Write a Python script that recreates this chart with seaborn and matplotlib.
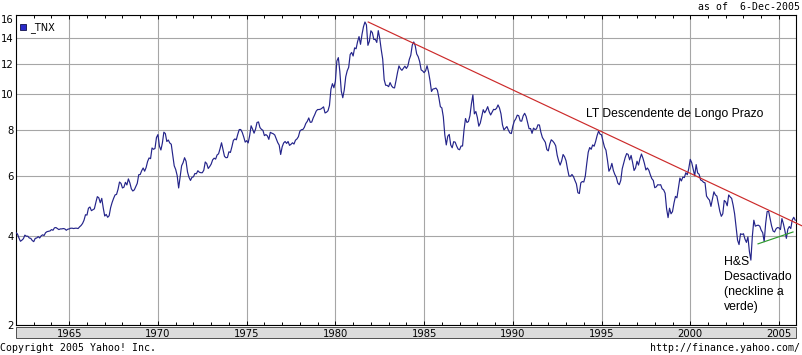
import numpy as np
import pandas as pd
import matplotlib
matplotlib.use("Agg")
import matplotlib.pyplot as plt
import seaborn as sns
from matplotlib.patches import Rectangle
from matplotlib.ticker import FixedLocator, MultipleLocator

# ---------------- data (monthly) ----------------
start_year = 1962
tnx_1960s = [
    4.08, 4.04, 3.93, 3.84, 3.87, 3.91, 4.01, 3.98, 3.98, 3.93, 3.92, 3.86,
    3.83, 3.92, 3.93, 3.97, 3.93, 3.99, 4.02, 4.00, 4.08, 4.11, 4.12, 4.13,
    4.17, 4.15, 4.22, 4.23, 4.20, 4.17, 4.19, 4.19, 4.20, 4.19, 4.15, 4.18,
    4.19, 4.21, 4.21, 4.20, 4.21, 4.21, 4.20, 4.25, 4.29, 4.35, 4.45, 4.62,
    4.61, 4.83, 4.87, 4.75, 4.78, 4.81, 5.02, 5.22, 5.18, 5.01, 5.16, 4.84,
    4.58, 4.63, 4.54, 4.59, 4.85, 5.02, 5.16, 5.28, 5.30, 5.48, 5.75, 5.70,
    5.53, 5.56, 5.74, 5.64, 5.87, 5.72, 5.50, 5.42, 5.46, 5.58, 5.70, 6.03,
    6.04, 6.19, 6.30, 6.17, 6.32, 6.57, 6.72, 6.69, 7.16, 7.10, 7.14, 7.65,
]
tnx_1970s = [
    7.79, 7.24, 7.07, 7.39, 7.91, 7.84, 7.46, 7.53, 7.39, 7.33, 6.84, 6.39,
    6.24, 6.00, 5.53, 5.96, 6.39, 6.52, 6.73, 6.58, 6.14, 5.93, 5.81, 5.93,
    5.95, 6.08, 6.07, 6.19, 6.13, 6.11, 6.11, 6.21, 6.55, 6.48, 6.28, 6.36,
    6.46, 6.64, 6.71, 6.67, 6.85, 6.90, 7.13, 7.40, 7.09, 6.79, 6.73, 6.74,
    6.99, 6.96, 7.21, 7.51, 7.58, 7.54, 7.81, 8.04, 8.04, 7.90, 7.68, 7.43,
    7.50, 7.39, 7.73, 8.23, 8.06, 7.86, 8.06, 8.40, 8.43, 8.14, 8.05, 8.00,
    7.74, 7.79, 7.73, 7.56, 7.90, 7.86, 7.83, 7.77, 7.59, 7.41, 7.29, 6.87,
    7.21, 7.39, 7.46, 7.37, 7.46, 7.28, 7.33, 7.40, 7.34, 7.52, 7.58, 7.69,
    7.96, 8.03, 8.04, 8.15, 8.35, 8.46, 8.64, 8.41, 8.42, 8.64, 8.81, 9.01,
    9.10, 9.10, 9.12, 9.18, 9.25, 8.91, 8.95, 9.03, 9.33, 10.30, 10.65, 10.39,
]
tnx_1980s = [
    10.80, 12.20, 12.45, 11.47, 10.18, 9.78, 10.25, 11.10, 11.51, 11.75, 12.68, 12.84,
    12.57, 13.19, 13.12, 13.68, 14.10, 13.47, 14.28, 14.94, 15.36, 15.10, 13.39, 13.72,
    14.59, 14.43, 13.86, 13.87, 13.62, 14.60, 13.95, 13.06, 12.34, 10.91, 10.55, 10.54,
    10.46, 10.72, 10.51, 10.40, 10.38, 10.85, 11.38, 11.85, 11.65, 11.54, 11.69, 11.83,
    11.67, 11.84, 12.32, 12.63, 13.41, 13.66, 13.36, 12.72, 12.52, 12.16, 11.57, 11.50,
    11.38, 11.51, 11.86, 11.43, 10.85, 10.16, 10.31, 10.33, 10.37, 10.24, 9.78, 9.26,
    9.19, 8.70, 7.78, 7.30, 7.71, 7.80, 7.30, 7.17, 7.45, 7.43, 7.25, 7.11,
    7.08, 7.25, 7.25, 8.02, 8.61, 8.40, 8.45, 8.76, 9.42, 9.95, 8.86, 8.99,
    8.67, 8.21, 8.37, 8.72, 9.09, 8.92, 9.06, 9.26, 8.98, 8.80, 8.96, 9.11,
    9.09, 9.17, 9.36, 9.18, 8.86, 8.28, 8.02, 8.11, 8.19, 8.01, 7.87, 7.84,
]
tnx_1990s = [
    8.21, 8.47, 8.59, 8.79, 8.76, 8.48, 8.47, 8.75, 8.89, 8.72, 8.39, 8.08,
    8.09, 7.85, 8.11, 8.04, 8.07, 8.28, 8.27, 7.90, 7.65, 7.53, 7.42, 7.09,
    7.03, 7.34, 7.54, 7.48, 7.39, 7.26, 6.84, 6.59, 6.42, 6.59, 6.87, 6.77,
    6.60, 6.26, 5.98, 5.97, 6.04, 5.96, 5.81, 5.68, 5.36, 5.33, 5.72, 5.77,
    5.75, 5.97, 6.48, 6.97, 7.18, 7.10, 7.30, 7.24, 7.46, 7.74, 7.96, 7.81,
    7.78, 7.47, 7.20, 7.06, 6.63, 6.17, 6.28, 6.49, 6.20, 6.04, 5.93, 5.71,
    5.65, 5.81, 6.27, 6.51, 6.74, 6.91, 6.87, 6.64, 6.83, 6.53, 6.20, 6.30,
    6.58, 6.42, 6.69, 6.89, 6.71, 6.49, 6.22, 6.30, 6.21, 6.03, 5.88, 5.81,
    5.54, 5.57, 5.65, 5.64, 5.65, 5.50, 5.46, 5.34, 4.81, 4.53, 4.83, 4.65,
    4.72, 5.00, 5.23, 5.18, 5.54, 5.90, 5.79, 5.94, 5.92, 6.11, 6.03, 6.28,
]
tnx_2000s = [
    6.66, 6.52, 6.26, 5.99, 6.44, 6.10, 6.05, 5.83, 5.80, 5.74, 5.72, 5.24,
    5.16, 5.10, 4.89, 5.14, 5.39, 5.28, 5.24, 4.97, 4.73, 4.57, 4.65, 5.09,
    5.04, 4.91, 5.28, 5.21, 5.16, 4.93, 4.65, 4.26, 3.87, 3.75, 4.05, 4.03,
    4.05, 3.90, 3.81, 3.96, 3.57, 3.35, 3.98, 4.45, 4.27, 4.29, 4.30, 4.27,
    4.15, 4.08, 3.83, 4.35, 4.72, 4.73, 4.50, 4.28, 4.13, 4.10, 4.19, 4.23,
    4.22, 4.17, 4.50, 4.34, 4.14, 3.92, 4.18, 4.26, 4.20, 4.46, 4.54, 4.45,
]

# trend lines drawn on the chart (year, yield)
lt_line_years = [1981.85, 2006.30]
lt_line_values = [15.36, 4.28]
neck_line_years = [2003.82, 2005.79]
neck_line_values = [3.77, 4.10]

y_ticks = [2, 4, 6, 8, 10, 12, 14, 16]
x_ticks = [1965, 1970, 1975, 1980, 1985, 1990, 1995, 2000, 2005]

# ---------------- build frame ----------------
values = tnx_1960s + tnx_1970s + tnx_1980s + tnx_1990s + tnx_2000s
dates = pd.date_range(f"{start_year}-01-01", periods=len(values), freq="MS")
df = pd.DataFrame({
    "year": dates.year + (dates.month - 1) / 12.0,
    "yield": values,
})

# ---------------- figure ----------------
W, H = 802, 355
fig = plt.figure(figsize=(W / 100, H / 100), dpi=100)
fig.patch.set_facecolor("white")

def fx(px):
    return px / W

def fy(py):
    return (H - py) / H

ax_l, ax_r, ax_t, ax_b = 16, 796, 15, 325
ax = fig.add_axes([fx(ax_l), fy(ax_b), (ax_r - ax_l) / W, (ax_b - ax_t) / H])
ax.set_facecolor("white")

sns.lineplot(data=df, x="year", y="yield", ax=ax, color="#24248a",
             linewidth=0.85, legend=False, zorder=3)

C = 1.2
ax.set_yscale("function", functions=(lambda v: np.log(np.maximum(v, 1e-6) + C),
                                     lambda u: np.exp(u) - C))
ax.set_ylim(2, 16.0)
ax.set_xlim(1962.0, 2005.96)

# trend lines
ax.plot(lt_line_years, lt_line_values, color="#cc2a2a", linewidth=0.85,
        clip_on=False, zorder=4)
ax.plot(neck_line_years, neck_line_values, color="#2e9a2e", linewidth=0.85,
        zorder=4)

# ticks & grid
ax.yaxis.set_major_locator(FixedLocator(y_ticks))
ax.yaxis.set_minor_locator(FixedLocator([]))
ax.set_yticklabels([str(t) for t in y_ticks])
ax.xaxis.set_major_locator(FixedLocator(x_ticks))
ax.xaxis.set_minor_locator(MultipleLocator(1))
ax.set_xticklabels([str(t) for t in x_ticks])
ax.grid(True, which="major", color="#a6a6a6", linewidth=0.8, zorder=0)
ax.set_axisbelow(True)
ax.set_xlabel("")
ax.set_ylabel("")

ax.tick_params(axis="y", which="major", left=False, right=False, length=0,
               pad=1.5, labelsize=7.2, colors="black",
               labelleft=True, labelright=False)
ax.tick_params(axis="x", which="major", bottom=True, top=True, direction="in",
               length=3, pad=3.0, labelsize=7.2, width=0.7)
ax.tick_params(axis="x", which="minor", bottom=True, top=True, direction="in",
               length=2.2, width=0.7)
for lab in ax.get_yticklabels():
    if lab.get_text() == "16":
        lab.set_va("top")
for sp in ax.spines.values():
    sp.set_color("black")
    sp.set_linewidth(0.8)

# grey band with the year labels
band = Rectangle((fx(16), fy(338)), (796 - 16) / W, 11 / H,
                 transform=fig.transFigure, facecolor="#dcdcdc",
                 edgecolor="#505050", linewidth=0.7, zorder=-1)
fig.add_artist(band)

# legend square and name
fig.add_artist(Rectangle((fx(20), fy(30)), 6 / W, 6 / H,
                         transform=fig.transFigure, facecolor="#2a2ac8",
                         edgecolor="#10104a", linewidth=0.6, zorder=5))
fig.text(fx(30), fy(28), "_TNX", fontsize=7, family="DejaVu Sans",
         va="center", ha="left", zorder=6)

# header / footer
fig.text(fx(800), fy(7), "as of  6-Dec-2005", fontsize=7.1,
         family="DejaVu Sans Mono", ha="right", va="center")
fig.text(fx(0), fy(348), "Copyright 2005 Yahoo! Inc.", fontsize=7.1,
         family="DejaVu Sans Mono", ha="left", va="center")
fig.text(fx(800), fy(348), "http://finance.yahoo.com/", fontsize=7.1,
         family="DejaVu Sans Mono", ha="right", va="center")

# annotations
fig.text(fx(586), fy(114), "LT Descendente de Longo Prazo", fontsize=8.7,
         family="Liberation Sans", ha="left", va="center")
for txt, py in zip(["H&S", "Desactivado", "(neckline a", "verde)"],
                   [262, 277, 292, 307]):
    fig.text(fx(724), fy(py), txt, fontsize=8.8, family="Liberation Sans",
             ha="left", va="center")

fig.savefig("out.png", dpi=100, facecolor="white")
